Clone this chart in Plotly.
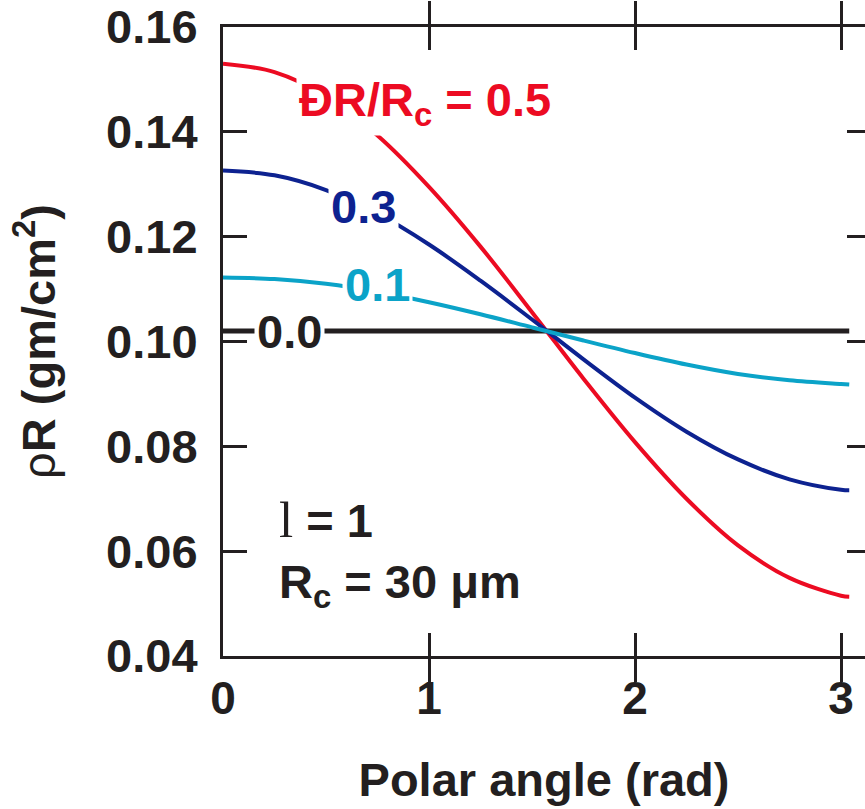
import plotly.graph_objects as go

# Polar angle samples (rad) and areal density rho*R (g/cm^2) for each
# fractional offset of the shell centre, dR/Rc.
angle = [0.0, 0.25, 0.5, 0.75, 1.0, 1.25, 1.5, 1.75, 2.0, 2.25, 2.5, 2.75, 3.0, 3.04]
rhoR_00 = [0.102, 0.102, 0.102, 0.102, 0.102, 0.102, 0.102, 0.102, 0.102, 0.102, 0.102, 0.102, 0.102, 0.102]
rhoR_01 = [0.1122, 0.1119, 0.1110, 0.1095, 0.1075, 0.1052, 0.1027, 0.1002, 0.0978, 0.0956, 0.0938, 0.0926, 0.0919, 0.0918]
rhoR_03 = [0.1326, 0.1317, 0.1289, 0.1244, 0.1185, 0.1116, 0.1042, 0.0966, 0.0893, 0.0828, 0.0775, 0.0737, 0.0717, 0.0716]
rhoR_05 = [0.1530, 0.1514, 0.1468, 0.1393, 0.1295, 0.1181, 0.1056, 0.0929, 0.0808, 0.0700, 0.0611, 0.0549, 0.0515, 0.0513]

x_ticks = [0, 1, 2, 3]
y_ticks = [0.04, 0.06, 0.08, 0.10, 0.12, 0.14, 0.16]

BLACK = "#231f20"
RED = "#ec0b22"
BLUE = "#0d2290"
CYAN = "#0ba3c8"
FONT = "Liberation Sans, Arial, sans-serif"

fig = go.Figure()

series = [
    (rhoR_00, BLACK, 5),
    (rhoR_05, RED, 4),
    (rhoR_03, BLUE, 4),
    (rhoR_01, CYAN, 4),
]
for vals, col, w in series:
    fig.add_trace(go.Scatter(x=angle, y=vals, mode="lines",
                             line=dict(color=col, width=w, shape="spline"),
                             showlegend=False, hoverinfo="skip"))

# invisible trace so the right-hand tick axis is drawn
fig.add_trace(go.Scatter(x=angle, y=rhoR_00, yaxis="y2", mode="lines",
                         line=dict(width=0), opacity=0, showlegend=False,
                         hoverinfo="skip"))

label_font = dict(family=FONT, size=47, weight="bold")
curve_labels = [
    ("ĐR/R<sub>c</sub> = 0.5", 0.355, 0.1455, "left", RED),
    ("0.3", 0.684, 0.1258, "center", BLUE),
    ("0.1", 0.752, 0.1108, "center", CYAN),
    ("0.0", 0.325, 0.1020, "center", BLACK),
]
for text, xv, yv, anchor, col in curve_labels:
    fig.add_annotation(x=xv, y=yv, xref="x", yref="y", text=text,
                       showarrow=False, xanchor=anchor, yanchor="middle",
                       font=dict(label_font, color=col), bgcolor="white",
                       borderpad=2)

fig.add_annotation(x=0.262, y=0.0659, xref="x", yref="y",
                   text="<span style='font-family:Liberation Serif;font-weight:normal;font-size:51px'>l</span> = 1",
                   showarrow=False, xanchor="left", yanchor="middle",
                   font=dict(label_font, color=BLACK))
fig.add_annotation(x=0.262, y=0.0535, xref="x", yref="y",
                   text="R<sub>c</sub> = 30 μm",
                   showarrow=False, xanchor="left", yanchor="middle",
                   font=dict(label_font, color=BLACK))

fig.update_layout(
    width=865, height=809,
    margin=dict(l=223, r=0, t=27, b=153),
    paper_bgcolor="white", plot_bgcolor="white",
    font=dict(family=FONT, color=BLACK),
    xaxis=dict(
        range=[0, 3.1165], tickvals=x_ticks, ticktext=[str(v) for v in x_ticks],
        ticks="inside", ticklen=23, tickwidth=2.5, tickcolor=BLACK,
        showline=True, linewidth=3, linecolor=BLACK, mirror="allticks",
        showgrid=False, zeroline=False,
        tickfont=dict(family=FONT, size=46, weight="bold", color=BLACK),
        title=dict(text="Polar angle (rad)", standoff=40,
                   font=dict(family=FONT, size=47, weight="bold", color=BLACK)),
    ),
    yaxis=dict(
        range=[0.04, 0.16], tickvals=y_ticks,
        ticktext=[f"{v:.2f}" for v in y_ticks],
        ticks="inside", ticklen=24, tickwidth=2.5, tickcolor=BLACK,
        showline=True, linewidth=3, linecolor=BLACK, mirror=False,
        showgrid=False, zeroline=False, ticklabelstandoff=13,
        tickfont=dict(family=FONT, size=47, weight="bold", color=BLACK),
        title=dict(text="<span style='font-weight:normal'>ρ</span>R (gm/cm<sup>2</sup>)",
                   standoff=36,
                   font=dict(family=FONT, size=47, weight="bold", color=BLACK)),
    ),
    yaxis2=dict(
        range=[0.04, 0.16], tickvals=y_ticks, overlaying="y", side="right",
        ticks="inside", ticklen=18, tickwidth=2.5, tickcolor=BLACK,
        showticklabels=False, showline=False, showgrid=False, zeroline=False,
    ),
)

fig.write_html("out.html")
